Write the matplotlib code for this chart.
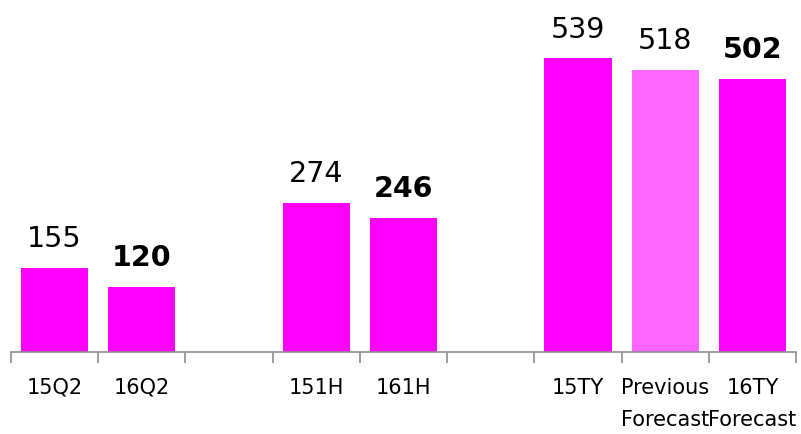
import numpy as np
import matplotlib.pyplot as plt

categories = ['15Q2', '16Q2', '', '151H', '161H', '', '15TY', 'Previous\nForecast', '16TY\nForecast']
values = [155, 120, np.nan, 274, 246, np.nan, 539, 518, 502]
bold = [False, True, False, False, True, False, False, False, True]
colors = ['#FF00FF', '#FF00FF', '#FF00FF', '#FF00FF', '#FF00FF', '#FF00FF', '#FF00FF', '#FF66FF', '#FF00FF']

plt.rcParams['font.family'] = ['DejaVu Sans']

fig = plt.figure(figsize=(8.01, 4.35), dpi=100)
ax = fig.add_axes([11 / 801, 82 / 435, 785 / 801, 353 / 435])

x = np.arange(len(categories))
ax.bar(x, values, width=0.77, color=colors)

for xi, v, b in zip(x, values, bold):
    if np.isnan(v):
        continue
    ax.annotate(str(v), (xi, v), xytext=(0, 15.5), textcoords='offset points',
                ha='center', va='baseline', fontsize=20.5,
                fontweight='bold' if b else 'normal', color='black')

ax.set_xlim(-0.5, len(categories) - 0.5)
ax.set_ylim(0, 648)

# tick marks at the slot boundaries, labels at the slot centres
ax.set_xticks(np.arange(len(categories) + 1) - 0.5)
ax.set_xticklabels([])
ax.set_xticks(x, minor=True)
ax.set_xticklabels(categories, minor=True, fontsize=15, linespacing=1.78)
ax.tick_params(axis='x', which='major', length=8, width=1.2, color='#8c8c8c', direction='out')
ax.tick_params(axis='x', which='minor', length=0, pad=18)
ax.set_yticks([])

for s in ['top', 'left', 'right']:
    ax.spines[s].set_visible(False)
ax.spines['bottom'].set_color('#8c8c8c')
ax.spines['bottom'].set_linewidth(1.2)

fig.savefig('out.png', dpi=100)
